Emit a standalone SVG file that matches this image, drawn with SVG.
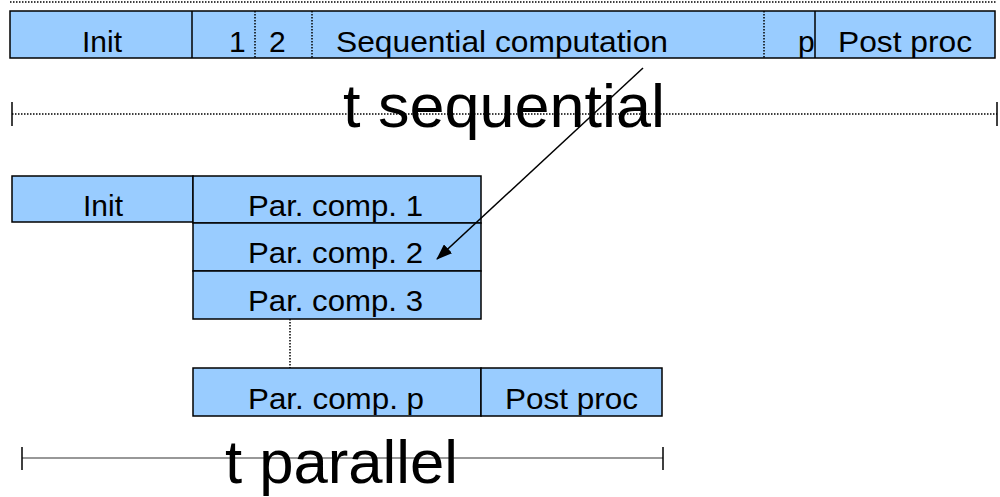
<svg xmlns="http://www.w3.org/2000/svg" width="1000" height="497" viewBox="0 0 1000 497">
<style>
.box{fill:#99ccff;stroke:#000;stroke-width:1.5}
.div{stroke:#000;stroke-width:1.5}
.dot{stroke:#000;stroke-width:1.5;stroke-dasharray:1.5 1.5;fill:none}
.lbl{font-family:"Liberation Sans",Arial,sans-serif;font-size:30px;fill:#000}
.big{font-family:"Liberation Sans",Arial,sans-serif;font-size:61px;fill:#000}
</style>
<defs>
<marker id="ah" viewBox="0 0 16 12" refX="15" refY="6" markerWidth="16" markerHeight="12" orient="auto" markerUnits="userSpaceOnUse">
<path d="M0,0 L16,6 L0,12 z" fill="#000"/>
</marker>
</defs>
<rect width="1000" height="497" fill="#fff"/>
<line x1="10" y1="2" x2="996" y2="2" class="dot"/>
<g id="seq-row">
<rect class="box" x="10" y="11" width="985" height="47"/>
<line class="div" x1="192" y1="11" x2="192" y2="58"/>
<line class="dot" x1="255" y1="11" x2="255" y2="58"/>
<line class="dot" x1="312" y1="11" x2="312" y2="58"/>
<line class="dot" x1="764" y1="11" x2="764" y2="58"/>
<line class="div" x1="815" y1="11" x2="815" y2="58"/>
<text class="lbl" x="102" y="52" text-anchor="middle" textLength="40" lengthAdjust="spacingAndGlyphs">Init</text>
<text class="lbl" x="229" y="52">1</text>
<text class="lbl" x="269" y="52">2</text>
<text class="lbl" x="336" y="52" textLength="332" lengthAdjust="spacingAndGlyphs">Sequential computation</text>
<text class="lbl" x="798" y="52">p</text>
<text class="lbl" x="838" y="52" textLength="134" lengthAdjust="spacingAndGlyphs">Post proc</text>
</g>
<g id="t-seq">
<line class="dot" x1="12" y1="114" x2="997" y2="114"/>
<line class="div" x1="12" y1="102" x2="12" y2="126"/>
<line class="div" x1="997" y1="102" x2="997" y2="126"/>
<text class="big" x="343" y="127" textLength="322" lengthAdjust="spacingAndGlyphs">t sequential</text>
</g>
<g id="par-init">
<rect class="box" x="12" y="176" width="181" height="46"/>
<text class="lbl" x="83" y="216" textLength="40" lengthAdjust="spacingAndGlyphs">Init</text>
</g>
<g id="par1">
<rect class="box" x="193" y="176" width="288" height="47"/>
<text class="lbl" x="248" y="216" textLength="175" lengthAdjust="spacingAndGlyphs">Par. comp. 1</text>
</g>
<g id="par2">
<rect class="box" x="193" y="223" width="288" height="48"/>
<text class="lbl" x="248" y="263" textLength="175" lengthAdjust="spacingAndGlyphs">Par. comp. 2</text>
</g>
<g id="par3">
<rect class="box" x="193" y="271" width="288" height="48"/>
<text class="lbl" x="248" y="311" textLength="175" lengthAdjust="spacingAndGlyphs">Par. comp. 3</text>
</g>
<g id="parp">
<rect class="box" x="193" y="368" width="288" height="48"/>
<text class="lbl" x="248" y="409" textLength="176" lengthAdjust="spacingAndGlyphs">Par. comp. p</text>
</g>
<g id="par-post">
<rect class="box" x="481" y="368" width="181" height="48"/>
<text class="lbl" x="505" y="409" textLength="133" lengthAdjust="spacingAndGlyphs">Post proc</text>
</g>
<g id="t-par">
<line x1="22" y1="458" x2="663" y2="458" stroke="#333" stroke-width="1.2"/>
<line class="div" x1="22" y1="447" x2="22" y2="470"/>
<line class="div" x1="663" y1="447" x2="663" y2="470"/>
<text class="big" x="225" y="483" font-size="62" textLength="233" lengthAdjust="spacingAndGlyphs">t parallel</text>
</g>
<g id="connectors">
<line class="dot" x1="290" y1="319" x2="290" y2="368"/>
<line x1="643" y1="68" x2="437" y2="259" stroke="#000" stroke-width="1.5" marker-end="url(#ah)"/>
</g>
</svg>
